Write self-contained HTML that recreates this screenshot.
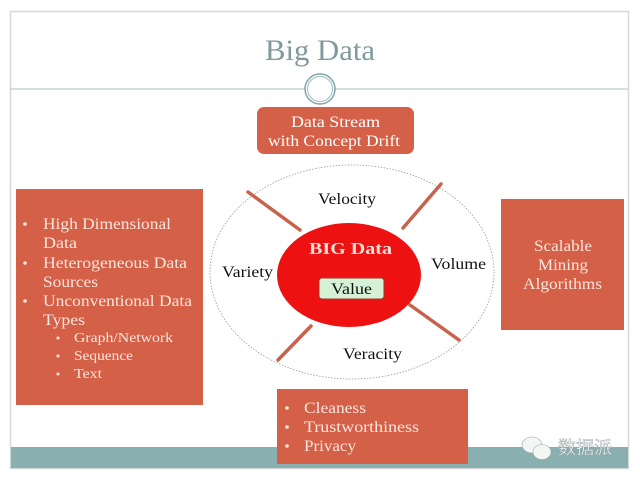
<!DOCTYPE html>
<html><head><meta charset="utf-8"><style>
html,body{margin:0;padding:0;background:#fff;width:640px;height:480px;overflow:hidden}
svg{display:block}
.s{font-family:"Liberation Serif",serif}
</style></head><body>
<svg width="640" height="480" viewBox="0 0 640 480" xmlns="http://www.w3.org/2000/svg">
<rect x="10.5" y="11.5" width="618" height="457" fill="#fff" stroke="#d4dada" stroke-width="1.5"/>
<rect x="11" y="447" width="617" height="21" fill="#8aafb0"/>
<text x="265" y="60" textLength="110" lengthAdjust="spacingAndGlyphs" class="s" font-size="30" fill="#7f9a9c">Big Data</text>
<line x1="11" y1="89" x2="628" y2="89" stroke="#a9c1c2" stroke-width="1"/>
<ellipse cx="320" cy="89" rx="15" ry="15" fill="#fff" stroke="#7fa6a8" stroke-width="1.5"/>
<ellipse cx="320" cy="89" rx="12.5" ry="12.5" fill="none" stroke="#9fbcbd" stroke-width="1"/>
<rect x="257" y="107" width="157" height="47" rx="7" fill="#d46048"/>
<g class="s" font-size="16" fill="#fff" lengthAdjust="spacingAndGlyphs">
<text x="291" y="127" textLength="89" lengthAdjust="spacingAndGlyphs">Data Stream</text>
<text x="268" y="146" textLength="132" lengthAdjust="spacingAndGlyphs">with Concept Drift</text>
</g>
<ellipse cx="352" cy="272" rx="142" ry="107" fill="#fff" stroke="#999" stroke-width="0.8" stroke-dasharray="1.5 1.5"/>
<g stroke="#c9624c" stroke-width="3.5" stroke-linecap="round">
<line x1="248" y1="192" x2="300" y2="230"/>
<line x1="441" y1="184" x2="403" y2="228"/>
<line x1="410" y1="305" x2="459" y2="340"/>
<line x1="311" y1="326" x2="278" y2="360"/>
</g>
<ellipse cx="349" cy="275" rx="72" ry="52" fill="#ee1111"/>
<text x="309" y="254" textLength="83" lengthAdjust="spacingAndGlyphs" class="s" font-size="17" font-weight="bold" fill="#fde0d8">BIG Data</text>
<rect x="319" y="278" width="65" height="21" rx="3" fill="#d6f2d6" stroke="#9c3a2a" stroke-width="1"/>
<text x="331" y="294" textLength="41" lengthAdjust="spacingAndGlyphs" class="s" font-size="16" fill="#111">Value</text>
<g class="s" font-size="16" fill="#111">
<text x="318" y="204" textLength="58" lengthAdjust="spacingAndGlyphs">Velocity</text>
<text x="222" y="277" textLength="51" lengthAdjust="spacingAndGlyphs">Variety</text>
<text x="431" y="269" textLength="55" lengthAdjust="spacingAndGlyphs">Volume</text>
<text x="343" y="359" textLength="59" lengthAdjust="spacingAndGlyphs">Veracity</text>
</g>
<rect x="16" y="189" width="187" height="216" fill="#d46048"/>
<g class="s" font-size="16" fill="#fbe6de">
<text x="43" y="229" textLength="128" lengthAdjust="spacingAndGlyphs">High Dimensional</text>
<text x="43" y="248" textLength="34" lengthAdjust="spacingAndGlyphs">Data</text>
<text x="43" y="268" textLength="144" lengthAdjust="spacingAndGlyphs">Heterogeneous Data</text>
<text x="43" y="287" textLength="55" lengthAdjust="spacingAndGlyphs">Sources</text>
<text x="43" y="306" textLength="149" lengthAdjust="spacingAndGlyphs">Unconventional Data</text>
<text x="43" y="325" textLength="42" lengthAdjust="spacingAndGlyphs">Types</text>
<text x="74" y="342" font-size="14" textLength="99" lengthAdjust="spacingAndGlyphs">Graph/Network</text>
<text x="74" y="360" font-size="14" textLength="59" lengthAdjust="spacingAndGlyphs">Sequence</text>
<text x="74" y="378" font-size="14" textLength="28" lengthAdjust="spacingAndGlyphs">Text</text>
</g>
<g fill="#fbe6de">
<circle cx="25" cy="224" r="1.8"/><circle cx="25" cy="263" r="1.8"/><circle cx="25" cy="301" r="1.8"/>
<circle cx="58" cy="338" r="1.5"/><circle cx="58" cy="356" r="1.5"/><circle cx="58" cy="374" r="1.5"/>
</g>
<rect x="501" y="199" width="123" height="131" fill="#d46048"/>
<g class="s" font-size="16" fill="#fbe6de">
<text x="534" y="251" textLength="58" lengthAdjust="spacingAndGlyphs">Scalable</text>
<text x="538" y="270" textLength="50" lengthAdjust="spacingAndGlyphs">Mining</text>
<text x="523" y="289" textLength="79" lengthAdjust="spacingAndGlyphs">Algorithms</text>
</g>
<rect x="277" y="389" width="191" height="75" fill="#d46048"/>
<g class="s" font-size="16" fill="#fbe6de">
<text x="304" y="413" textLength="62" lengthAdjust="spacingAndGlyphs">Cleaness</text>
<text x="304" y="432" textLength="115" lengthAdjust="spacingAndGlyphs">Trustworthiness</text>
<text x="304" y="451" textLength="52" lengthAdjust="spacingAndGlyphs">Privacy</text>
</g>
<g fill="#fbe6de">
<circle cx="287" cy="408" r="1.8"/><circle cx="287" cy="427" r="1.8"/><circle cx="287" cy="446" r="1.8"/>
</g>
<g fill="#f4f6f6" stroke="#9aa" stroke-width="0.6">
<ellipse cx="532" cy="445" rx="10" ry="8"/>
<ellipse cx="542" cy="452" rx="9" ry="7.5"/>
</g>
<text x="558" y="454" font-family="'Noto Sans CJK SC','WenQuanYi Zen Hei',sans-serif" font-size="18" fill="#f4f6f6" stroke="#8a9a9a" stroke-width="0.4">数据派</text>
</svg>
</body></html>
